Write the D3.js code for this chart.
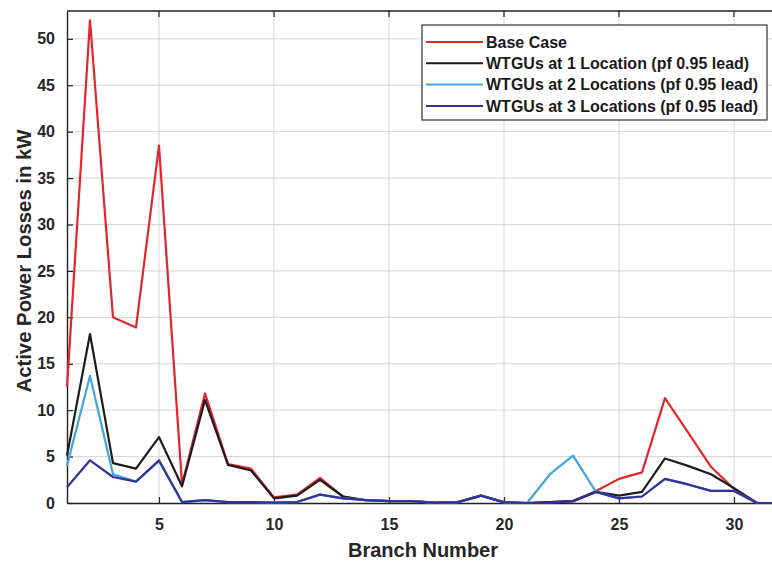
<!DOCTYPE html>
<html>
<head>
<meta charset="utf-8">
<script src="https://cdn.jsdelivr.net/npm/d3@7"></script>
<style>
  body { margin: 0; background: #fff; }
  svg { display: block; font-family: Arial, "Liberation Sans", sans-serif; }
  .grid line { stroke: #d9d3d3; stroke-width: 1; }
  .tick text { font-weight: bold; fill: #262626; }
</style>
</head>
<body>
<svg id="chart" width="772" height="563"></svg>
<script>
// branch numbers 1..32
const branches = d3.range(1, 33);

const baseCase = [12.5, 52, 20, 18.9, 38.5, 2, 11.8, 4.2, 3.7, 0.6, 0.9, 2.7, 0.7, 0.3, 0.2, 0.2,
  0.05, 0.1, 0.8, 0.1, 0, 0.1, 0.2, 1.3, 2.6, 3.3, 11.3, 7.6, 3.9, 1.5, 0, 0];
const oneLoc = [5.1, 18.2, 4.3, 3.7, 7.1, 1.8, 11.1, 4.1, 3.5, 0.5, 0.8, 2.5, 0.7, 0.3, 0.2, 0.2,
  0.05, 0.1, 0.8, 0.1, 0, 0.1, 0.2, 1.2, 0.8, 1.2, 4.8, 4.0, 3.1, 1.6, 0, 0];
const twoLoc = [4.0, 13.7, 3.1, 2.3, 4.5, 0.1, 0.3, 0.1, 0.1, 0.05, 0.1, 0.9, 0.5, 0.3, 0.2, 0.2,
  0, 0.1, 0.8, 0.05, 0, 3.1, 5.1, 1.2, 0.5, 0.7, 2.6, 2.0, 1.3, 1.3, 0, 0];
const threeLoc = [1.7, 4.6, 2.8, 2.3, 4.6, 0.1, 0.3, 0.1, 0.1, 0.05, 0.1, 0.9, 0.5, 0.3, 0.2, 0.2,
  0, 0.1, 0.8, 0.05, 0, 0.05, 0.2, 1.2, 0.5, 0.7, 2.6, 2.0, 1.3, 1.3, 0, 0];

const seriesNames = [
  'Base Case',
  'WTGUs at 1 Location (pf 0.95 lead)',
  'WTGUs at 2 Locations (pf 0.95 lead)',
  'WTGUs at 3 Locations (pf 0.95 lead)',
];
const seriesColors = ['#e3262c', '#1c1c1c', '#3fa6dc', '#33319a'];
const seriesValues = [baseCase, oneLoc, twoLoc, threeLoc];

const xTicks = [5, 10, 15, 20, 25, 30];
const yTicks = d3.range(0, 55, 5);

const svg = d3.select('#chart');
const margin = { left: 67, right: -8, top: 11, bottom: 60 };
const width = +svg.attr('width');
const height = +svg.attr('height');

const x = d3.scaleLinear().domain([1, 32]).range([margin.left, width - margin.right]);
const y = d3.scaleLinear().domain([0, 53]).range([height - margin.bottom, margin.top]);

// grid
const grid = svg.append('g').attr('class', 'grid');
grid.selectAll('.gx').data(xTicks).enter().append('line')
  .attr('x1', d => x(d)).attr('x2', d => x(d))
  .attr('y1', y(0)).attr('y2', y(53));
grid.selectAll('.gy').data(yTicks.filter(d => d > 0)).enter().append('line')
  .attr('x1', x(1)).attr('x2', x(32))
  .attr('y1', d => y(d)).attr('y2', d => y(d));

// axes
const xAxis = svg.append('g')
  .attr('transform', `translate(0,${y(0)})`)
  .call(d3.axisBottom(x).tickValues(xTicks).tickSizeInner(-6).tickSizeOuter(0).tickPadding(16));
const yAxis = svg.append('g')
  .attr('transform', `translate(${x(1)},0)`)
  .call(d3.axisLeft(y).tickValues(yTicks).tickSizeInner(-6).tickSizeOuter(0).tickPadding(12));
[xAxis, yAxis].forEach(a => {
  a.selectAll('.tick text').style('font-size', '16px');
  a.select('.domain').attr('stroke', '#222').attr('stroke-width', 1.4);
  a.selectAll('.tick line').attr('stroke', '#222').attr('stroke-width', 1.2);
});

// top border + top ticks
svg.append('line')
  .attr('x1', x(1)).attr('x2', x(32))
  .attr('y1', y(53)).attr('y2', y(53))
  .attr('stroke', '#222').attr('stroke-width', 1.4);
svg.selectAll('.topTick').data(xTicks).enter().append('line')
  .attr('x1', d => x(d)).attr('x2', d => x(d))
  .attr('y1', y(53)).attr('y2', y(53) + 6)
  .attr('stroke', '#222').attr('stroke-width', 1.2);

// lines
const line = d3.line()
  .x((d, i) => x(branches[i]))
  .y(d => y(d));
svg.selectAll('.series').data(seriesValues).enter().append('path')
  .attr('class', 'series')
  .attr('d', d => line(d))
  .attr('fill', 'none')
  .attr('stroke', (d, i) => seriesColors[i])
  .attr('stroke-width', 2.2)
  .attr('stroke-linejoin', 'round');

// axis labels
svg.append('text')
  .attr('x', 423)
  .attr('y', 557)
  .attr('text-anchor', 'middle')
  .style('font-size', '20px')
  .style('font-weight', 'bold')
  .attr('fill', '#262626')
  .text('Branch Number');
svg.append('text')
  .attr('transform', 'translate(31,261) rotate(-90)')
  .attr('text-anchor', 'middle')
  .attr('textLength', 263)
  .attr('lengthAdjust', 'spacingAndGlyphs')
  .style('font-size', '20px')
  .style('font-weight', 'bold')
  .attr('fill', '#262626')
  .text('Active Power Losses in kW');

// legend
const legend = svg.append('g').attr('transform', 'translate(422,25)');
legend.append('rect')
  .attr('width', 345).attr('height', 95)
  .attr('fill', '#fff').attr('stroke', '#333').attr('stroke-width', 1.2);
const items = legend.selectAll('.item').data(seriesNames).enter().append('g')
  .attr('transform', (d, i) => `translate(0,${17 + i * 21.3})`);
items.append('line')
  .attr('x1', 4).attr('x2', 61)
  .attr('stroke', (d, i) => seriesColors[i]).attr('stroke-width', 2);
items.append('text')
  .attr('x', 64).attr('dy', '0.35em')
  .style('font-size', '16px')
  .style('font-weight', 'bold')
  .attr('fill', '#1a1a1a')
  .text(d => d);
</script>
</body>
</html>
